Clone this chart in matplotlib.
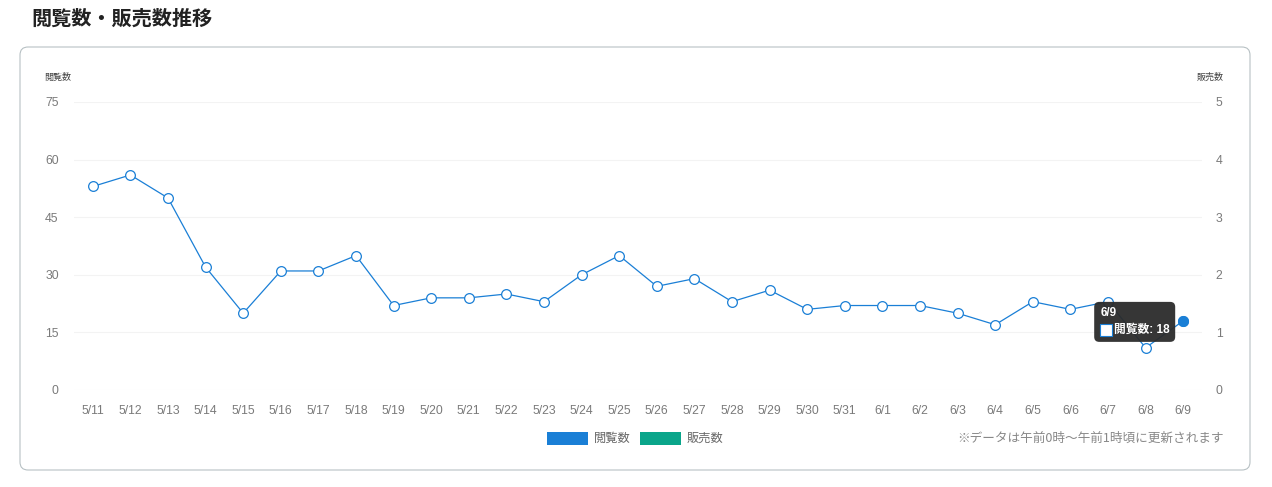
import matplotlib
matplotlib.use('Agg')
import matplotlib.pyplot as plt
from matplotlib.patches import FancyBboxPatch, Rectangle
from matplotlib.transforms import IdentityTransform

plt.rcParams['font.family'] = ['Liberation Sans', 'Noto Sans CJK JP', 'DejaVu Sans']
jp = ['Noto Sans CJK JP', 'DejaVu Sans']

# データ
dates = ['5/11', '5/12', '5/13', '5/14', '5/15', '5/16', '5/17', '5/18', '5/19', '5/20',
         '5/21', '5/22', '5/23', '5/24', '5/25', '5/26', '5/27', '5/28', '5/29', '5/30',
         '5/31', '6/1', '6/2', '6/3', '6/4', '6/5', '6/6', '6/7', '6/8', '6/9']
views = [53, 56, 50, 32, 20, 31, 31, 35, 22, 24,
         24, 25, 23, 30, 35, 27, 29, 23, 26, 21,
         22, 22, 22, 20, 17, 23, 21, 23, 11, 18]
sales = []  # 販売数のデータなし
left_ticks = [0, 15, 30, 45, 60, 75]
right_ticks = [0, 1, 2, 3, 4, 5]

W, H = 1272, 487
blue = '#1a7fd6'
green = '#0aa58a'
gray = '#7a7a7a'

fig = plt.figure(figsize=(W / 100, H / 100), dpi=100)
fig.patch.set_facecolor('white')

# タイトル
fig.text(31 / W, 1 - 18 / H, '閲覧数・販売数推移', fontsize=14.5, fontweight='bold',
         color='#222222', va='center', ha='left', family=jp)

# 枠
box = FancyBboxPatch((20, H - 470), 1230, 423, boxstyle='round,pad=0,rounding_size=8',
                     transform=IdentityTransform(), facecolor='white', edgecolor='#b3bdc0',
                     linewidth=0.75, zorder=-5)
fig.patches.append(box)

# 軸
x0, x1, ytop, ybot = 74, 1202, 102, 390
ax = fig.add_axes([x0 / W, (H - ybot) / H, (x1 - x0) / W, (ybot - ytop) / H])
ax.set_facecolor('none')
xs = list(range(len(dates)))
ax.plot(xs, views, color=blue, linewidth=0.9, marker='o', markersize=7,
        markerfacecolor='white', markeredgecolor=blue, markeredgewidth=0.9, zorder=3)
if sales:
    ax.plot(xs[:len(sales)], sales, color=green, linewidth=0.9)
# ホバー中の点
ax.plot(xs[-1], views[-1], 'o', color=blue, markersize=7, zorder=4)

ax.set_xlim(-0.5, len(dates) - 0.5)
ax.set_ylim(0, 75)
ax.set_yticks(left_ticks)
ax.set_xticks(xs)
ax.set_xticklabels(dates)
ax.tick_params(axis='both', length=0, colors=gray, labelsize=8.8)
ax.tick_params(axis='x', pad=11)
ax.tick_params(axis='y', pad=11)
ax.grid(axis='y', color='#f3f3f3', linewidth=0.8)
for s in ax.spines.values():
    s.set_visible(False)

ax2 = ax.twinx()
ax2.set_ylim(0, 5)
ax2.set_yticks(right_ticks)
ax2.tick_params(axis='y', length=0, colors=gray, labelsize=8.8, pad=10)
for s in ax2.spines.values():
    s.set_visible(False)

fig.text(58 / W, 1 - 77 / H, '閲覧数', fontsize=6.5, color='#444444', ha='center',
         va='center', family=jp)
fig.text(1210 / W, 1 - 77 / H, '販売数', fontsize=6.5, color='#444444', ha='center',
         va='center', family=jp)

# 凡例
for lx, label, c in [(547, '閲覧数', blue), (640, '販売数', green)]:
    fig.patches.append(Rectangle((lx, H - 445), 41, 13, transform=IdentityTransform(),
                                 facecolor=c, edgecolor='none'))
    fig.text((lx + 47) / W, 1 - 438 / H, label, fontsize=8.8, color='#666666',
             ha='left', va='center', family=jp)
fig.text(1224 / W, 1 - 438 / H, '※データは午前0時〜午前1時頃に更新されます', fontsize=9.1,
         color='#888888', ha='right', va='center', family=jp)

# ツールチップ
px, py = ax.transData.transform((xs[-1], views[-1]))
tb_l, tb_r = px - 89, px - 8
tb_b, tb_t = py - 21, py + 19
fig.patches.append(FancyBboxPatch((tb_l, tb_b), tb_r - tb_l, tb_t - tb_b,
                                  boxstyle='round,pad=0,rounding_size=5',
                                  transform=IdentityTransform(), facecolor='#2b2b2b',
                                  edgecolor='none', alpha=0.95, zorder=10))
fig.text((tb_l + 6) / W, (tb_t - 11) / H, dates[-1], fontsize=8.5, fontweight='bold',
         color='white', ha='left', va='center', zorder=11)
fig.patches.append(Rectangle((tb_l + 6, tb_b + 6), 12, 12, transform=IdentityTransform(),
                             facecolor='white', edgecolor=blue, linewidth=0.8, zorder=11))
fig.text((tb_l + 20) / W, (tb_b + 12) / H, f'閲覧数: {views[-1]}', fontsize=8.5,
         fontweight='bold', color='white', ha='left', va='center', zorder=11)

fig.savefig('out.png', dpi=100)
